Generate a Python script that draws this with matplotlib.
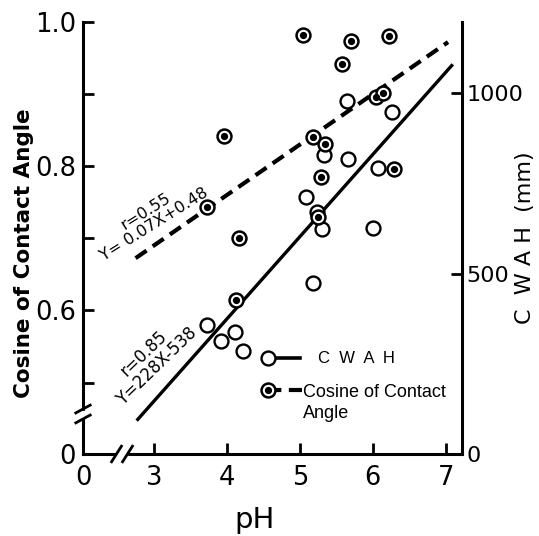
import matplotlib
matplotlib.use('Agg')
import matplotlib.pyplot as plt
from matplotlib.lines import Line2D
from matplotlib.patches import Rectangle
import numpy as np

# ---- data ----
ph_cos = [5.05, 5.70, 6.22, 5.58, 3.96, 5.18, 5.34, 6.04, 6.14, 3.73, 5.29, 6.29, 4.16, 5.25, 4.12]
cos_vals = [0.982, 0.974, 0.981, 0.942, 0.842, 0.840, 0.831, 0.896, 0.901, 0.743, 0.785, 0.796, 0.700, 0.729, 0.615]
ph_cwah = [5.64, 6.26, 5.33, 5.66, 6.07, 5.08, 5.23, 5.30, 6.00, 5.18, 3.73, 4.11, 3.92, 4.22]
cwah_vals = [978, 947, 828, 817, 792, 712, 670, 623, 626, 474, 357, 338, 313, 285]
cos_fit_range = [2.75, 7.03]
cwah_fit_range = [2.78, 7.08]
cos_slope, cos_icpt = 0.07, 0.48
cwah_slope, cwah_icpt = 228, -538
x_ticks = [3, 4, 5, 6, 7]
x_tick_labels = ['3', '4', '5', '6', '7']
left_major = [0.6, 0.8, 1.0]
left_minor = [0.5, 0.7, 0.9]
right_ticks = [500, 1000]

XMIN, XMAX = 2.03, 7.22
YMIN, YMAX = 0.401, 1.0
Y2MAX = 1197

plt.rcParams['font.family'] = ['DejaVu Sans']

fig = plt.figure(figsize=(5.39, 5.36), dpi=100)
ax = fig.add_axes([0.154, 0.153, 0.703, 0.806])
ax2 = ax.twinx()
ax.set_xlim(XMIN, XMAX)
ax.set_ylim(YMIN, YMAX)
ax2.set_ylim(0, Y2MAX)

for a in (ax, ax2):
    a.spines['top'].set_visible(False)
    for s in a.spines.values():
        s.set_linewidth(2.2)
ax.spines['right'].set_visible(False)
ax2.spines['left'].set_visible(False)
ax2.spines['bottom'].set_visible(False)

# fit lines
xc = np.array(cos_fit_range)
ax.plot(xc, cos_slope * xc + cos_icpt, color='black', lw=3.0, ls=(0, (3.2, 1.8)), solid_capstyle='butt')
xw = np.array(cwah_fit_range)
ax2.plot(xw, cwah_slope * xw + cwah_icpt, color='black', lw=2.4)

# points
ax2.plot(ph_cwah, cwah_vals, 'o', ms=10, mfc='white', mec='black', mew=1.7, zorder=4)
ax.plot(ph_cos, cos_vals, 'o', ms=10, mfc='white', mec='black', mew=1.8, zorder=5)
ax.plot(ph_cos, cos_vals, 'o', ms=4.2, mfc='black', mec='black', zorder=6)
ax.set_zorder(ax2.get_zorder() + 1)
ax.patch.set_visible(False)

# ticks
tick_font = 18.5
ax.set_xticks([XMIN] + x_ticks)
ax.set_xticklabels(['0'] + x_tick_labels, fontsize=tick_font)
ax.set_yticks([YMIN] + left_major)
ax.set_yticklabels(['0'] + ['%.1f' % v for v in left_major], fontsize=tick_font)
ax.set_yticks(left_minor, minor=True)
ax.tick_params(axis='both', which='both', direction='in', length=8, width=2, pad=5)
ax.tick_params(axis='x', pad=8)
ax2.set_yticks([0] + right_ticks)
ax2.set_yticklabels(['0', '500', '1000'], fontsize=16)
ax2.tick_params(axis='y', direction='in', length=8, width=2, pad=3)

# axis labels
ax.set_ylabel('Cosine of Contact Angle', fontsize=15.5, fontweight='bold')
ax.yaxis.set_label_coords(-0.13, 0.465)
ax.set_xlabel('pH', fontsize=21)
ax.xaxis.set_label_coords(0.454, -0.12)
ax2.set_ylabel('C  W A H  (mm)', fontsize=16)
ax2.yaxis.set_label_coords(1.14, 0.50)

# regression annotations
ax.text(2.95, 0.728, 'r=0.55\nY= 0.07X+0.48', rotation=32, rotation_mode='anchor',
        ha='center', va='center', fontsize=11.5, linespacing=1.0)
ax.text(2.95, 0.532, 'r=0.85\nY=228X-538', rotation=44, rotation_mode='anchor',
        ha='center', va='center', fontsize=12, linespacing=1.0)

# legend (manual)
T = ax.transAxes
lfont = ['Liberation Sans', 'DejaVu Sans']
ax.add_line(Line2D([0.488, 0.573], [0.222, 0.222], transform=T, color='black', lw=2.6))
ax.add_line(Line2D([0.488], [0.222], transform=T, marker='o', ms=10, mfc='white', mec='black', mew=1.7))
ax.text(0.62, 0.222, 'C  W  A  H', transform=T, fontsize=12, va='center', ha='left', family=lfont)
ax.add_line(Line2D([0.488, 0.578], [0.148, 0.148], transform=T, color='black', lw=3.0, ls=(0, (3.2, 1.8))))
ax.add_line(Line2D([0.488], [0.148], transform=T, marker='o', ms=10, mfc='white', mec='black', mew=1.8))
ax.add_line(Line2D([0.488], [0.148], transform=T, marker='o', ms=4.2, mfc='black', mec='black'))
ax.text(0.58, 0.163, 'Cosine of Contact\nAngle', transform=T, fontsize=13, va='top', ha='left',
        linespacing=1.35, family=lfont)

# axis breaks
def brk(x0, y0, dx, dy, off_x, off_y):
    for k in (-1, 1):
        ax.add_line(Line2D([x0 - dx + k * off_x, x0 + dx + k * off_x],
                           [y0 - dy + k * off_y, y0 + dy + k * off_y],
                           transform=T, color='black', lw=2.0, clip_on=False, zorder=10))

# y-axis break
yb = (454 - 414) / 432.0
ax.add_patch(Rectangle((-0.01, yb - 0.008), 0.02, 0.016, transform=T, color='white', clip_on=False, zorder=9))
brk(0.0, yb, 0.019, 0.009, 0.0, 0.0115)
# x-axis break
xb = (122 - 83) / 379.0
ax.add_patch(Rectangle((xb - 0.012, -0.008), 0.024, 0.016, transform=T, color='white', clip_on=False, zorder=9))
brk(xb, 0.0, 0.013, 0.018, 0.0145, 0.0)

fig.savefig('out.png', dpi=100)
